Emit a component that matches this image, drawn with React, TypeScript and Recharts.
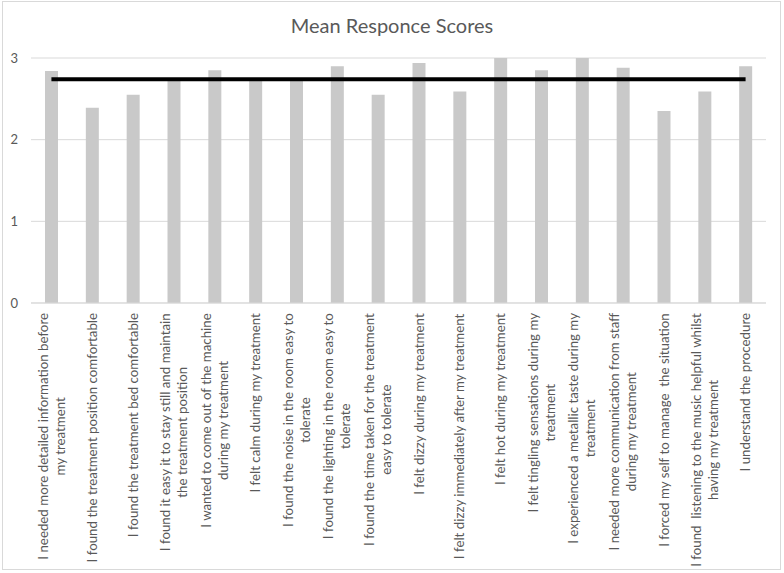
import React from 'react'
import { ComposedChart, Bar, Line, XAxis, YAxis, CartesianGrid } from 'recharts'

const categories = [
  'I needed more detailed information before\nmy treatment',
  'I found the treatment position comfortable',
  'I found the treatment bed comfortable',
  'I found it easy it to stay still and maintain\nthe treatment position',
  'I wanted to come out of the machine\nduring my treatment',
  'I felt calm during my treatment',
  'I found the noise in the room easy to\ntolerate',
  'I found the lighting in the room easy to\ntolerate',
  'I found the time taken for the treatment\neasy to tolerate',
  'I felt dizzy during my treatment',
  'I felt dizzy immediately after my treatment',
  'I felt hot during my treatment',
  'I felt tingling sensations during my\ntreatment',
  'I experienced a metallic taste during my\ntreatment',
  'I needed more communication from staff\nduring my treatment',
  'I forced my self to manage  the situation',
  'I found  listening to the music helpful whilst\nhaving my treatment',
  'I understand the procedure',
]

const scores = [2.84, 2.39, 2.55, 2.72, 2.85, 2.73, 2.72, 2.9, 2.55, 2.94, 2.59, 3.0, 2.85, 3.0, 2.88, 2.35, 2.59, 2.9]

const meanLine = [2.74, 2.74, 2.74, 2.74, 2.74, 2.74, 2.74, 2.74, 2.74, 2.74, 2.74, 2.74, 2.74, 2.74, 2.74, 2.74, 2.74, 2.74]

const yTicks = [0, 1, 2, 3]

const data = categories.map((name, i) => ({ name, score: scores[i], mean: meanLine[i] }))

const FONT = 'Lato, "Open Sans", sans-serif'
const TEXT = '#595959'
const GRID = '#d9d9d9'
const LABEL_SIZE = 13.3

let ctx: CanvasRenderingContext2D | null = null
const textWidth = (s: string) => {
  if (!ctx) ctx = document.createElement('canvas').getContext('2d')
  if (!ctx) return s.length * 6
  ctx.font = `${LABEL_SIZE}px ${FONT}`
  return ctx.measureText(s).width
}

const CategoryTick = ({ x, y, payload }: any) => {
  const lines = String(payload.value).split('\n')
  const maxW = Math.max(...lines.map(textWidth))
  const lineH = 17
  const n = lines.length
  return (
    <g transform={`translate(${x},${y + maxW / 2}) rotate(-90)`}>
      {lines.map((l, i) => (
        <text
          key={i}
          x={0}
          y={(i - (n - 1) / 2) * lineH}
          dy="0.35em"
          textAnchor="middle"
          fill={TEXT}
          fontSize={LABEL_SIZE}
          fontFamily={FONT}
          style={{ whiteSpace: 'pre' }}
        >
          {l}
        </text>
      ))}
    </g>
  )
}

export default function App() {
  return (
    <div style={{ position: 'absolute', left: 0, top: 0, width: 784, height: 573, background: '#fff' }}>
      <div
        style={{
          position: 'absolute',
          left: 2,
          top: 1,
          width: 779,
          height: 569,
          border: `1px solid ${GRID}`,
          boxSizing: 'border-box',
        }}
      />
      <div
        style={{
          position: 'absolute',
          left: 0,
          top: 13,
          width: 784,
          textAlign: 'center',
          fontFamily: FONT,
          fontSize: 20,
          color: TEXT,
        }}
      >
        Mean Responce Scores
      </div>
      <ComposedChart
        width={784}
        height={573}
        data={data}
        margin={{ top: 58, right: 18, left: 0, bottom: 10 }}
        style={{ position: 'absolute', left: 0, top: 0 }}
      >
        <CartesianGrid vertical={false} stroke={GRID} />
        <XAxis
          dataKey="name"
          interval={0}
          height={260}
          tickLine={false}
          tickSize={0}
          tickMargin={10}
          axisLine={{ stroke: GRID }}
          tick={<CategoryTick />}
        />
        <YAxis
          width={31}
          domain={[0, 3]}
          ticks={yTicks}
          axisLine={false}
          tickLine={false}
          tickSize={0}
          tickMargin={13}
          tick={{ fill: TEXT, fontSize: 13, fontFamily: FONT }}
        />
        <Bar dataKey="score" fill="#c9c9c9" barSize={13} isAnimationActive={false} />
        <Line dataKey="mean" stroke="#000" strokeWidth={4} dot={false} isAnimationActive={false} />
      </ComposedChart>
    </div>
  )
}
